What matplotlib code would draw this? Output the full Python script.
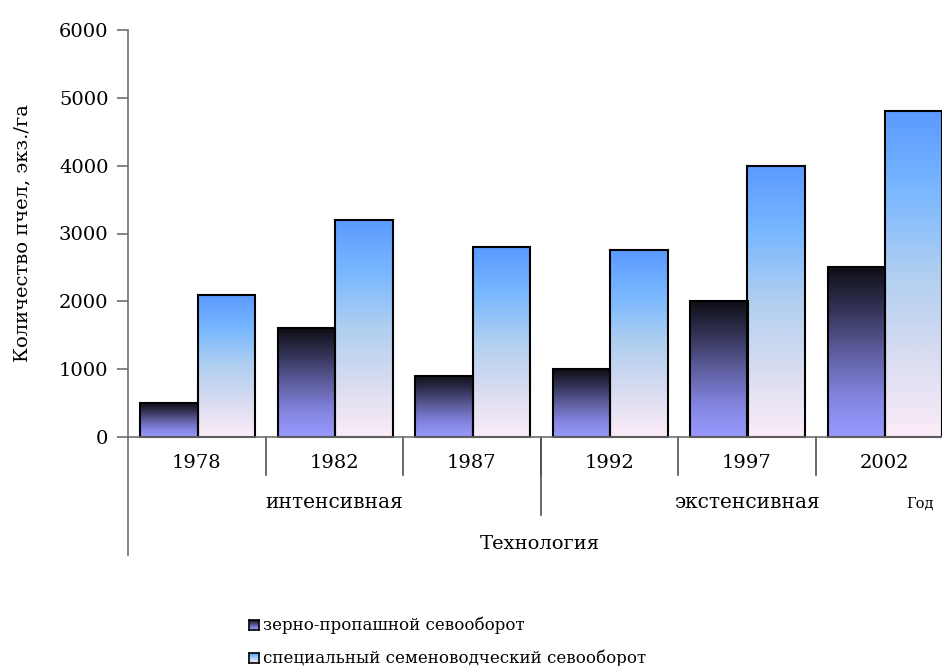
import numpy as np
import matplotlib as mpl
import matplotlib.pyplot as plt
from matplotlib.colors import LinearSegmentedColormap
from matplotlib.transforms import blended_transform_factory

plt.rcParams['font.family'] = ['DejaVu Serif']

# bee counts per year, two crop rotations
years = ['1978', '1982', '1987', '1992', '1997', '2002']
grain_row = [500, 1600, 900, 1000, 2000, 2500]
seed_special = [2100, 3200, 2800, 2750, 4000, 4800]
technology = ['интенсивная', 'экстенсивная']
tech_span = [3, 3]
series_names = ['зерно-пропашной севооборот',
                'специальный семеноводческий севооборот']

# vertical gradients, bottom -> top
cmap_dark = LinearSegmentedColormap.from_list(
    'dark', ['#9a9aff', '#8282de', '#5e5e9e', '#343458', '#0e0e16'])
cmap_light = LinearSegmentedColormap.from_list(
    'light', ['#fcecf8', '#d8dcf0', '#b0cff0', '#7ab8ff', '#5a9aff'])

W, H = 942, 666
fig = plt.figure(figsize=(W / 100, H / 100), dpi=100)
ax = fig.add_axes([128 / W, (H - 437) / H, (953 - 128) / W, 407 / H])

grad = np.linspace(0, 1, 256).reshape(-1, 1)
bw = 57.5 / 137.5
off = 12 / 137.5


def grad_bar(x0, h, cmap):
    ax.imshow(grad, cmap=cmap, origin='lower', aspect='auto',
              extent=[x0, x0 + bw, 0, h], zorder=2, interpolation='bilinear')
    ax.add_patch(plt.Rectangle((x0, 0), bw, h, fill=False, ec='black',
                               lw=1.5, zorder=3, clip_on=False))


for i, (a, b) in enumerate(zip(grain_row, seed_special)):
    grad_bar(i + off, a, cmap_dark)
    grad_bar(i + off + bw, b, cmap_light)

ax.set_xlim(0, len(years))
ax.set_ylim(0, 6000)

for s in ['top', 'right', 'bottom']:
    ax.spines[s].set_visible(False)
ax.spines['left'].set_color('#707070')
ax.spines['left'].set_linewidth(1.2)
ax.axhline(0, color='#707070', lw=1.2, zorder=4, clip_on=False)

ax.set_yticks(range(0, 6001, 1000))
ax.tick_params(axis='y', direction='out', length=8, width=1.2, color='#707070',
               labelsize=14, pad=6)
ax.set_xticks([])

# category labels and separators below the axis
tr = blended_transform_factory(ax.transData, ax.transAxes)
px = 1 / 407
for i, y in enumerate(years):
    ax.text(i + 0.5, -26 * px, y, transform=tr, ha='center', va='center',
            fontsize=14)
for i in range(1, len(years)):
    ax.plot([i, i], [0, -38 * px], transform=tr, color='#505050', lw=1.2,
            clip_on=False)
start = 0
for name, n in zip(technology, tech_span):
    ax.text(start + n / 2, -66 * px, name, transform=tr, ha='center',
            va='center', fontsize=14.5)
    start += n
ax.plot([3, 3], [0, -78 * px], transform=tr, color='#505050', lw=1.2,
        clip_on=False)
ax.plot([0, 0], [0, -118 * px], transform=tr, color='#707070', lw=1.2,
        clip_on=False)
fig.text(920 / W, 1 - 504 / H, 'Год', ha='center', va='center', fontsize=10.5)
fig.text(540 / W, 1 - 544 / H, 'Технология', ha='center', va='center',
         fontsize=14)

ax.set_ylabel('Количество пчел, экз./га', fontsize=14)
ax.yaxis.set_label_coords((31 - 128) / 825, 0.5)

# legend drawn by hand: gradient swatch + label
for k, (name, cm) in enumerate(zip(series_names, [cmap_dark, cmap_light])):
    yc = 625 + 33 * k
    sw = fig.add_axes([249 / W, 1 - (yc + 5) / H, 10 / W, 10 / H])
    sw.imshow(grad, cmap=cm, origin='lower', aspect='auto')
    sw.set_xticks([])
    sw.set_yticks([])
    for s in sw.spines.values():
        s.set_linewidth(1.2)
    fig.text(263 / W, 1 - yc / H, name, ha='left', va='center', fontsize=12)

fig.savefig('out.png', dpi=100)
